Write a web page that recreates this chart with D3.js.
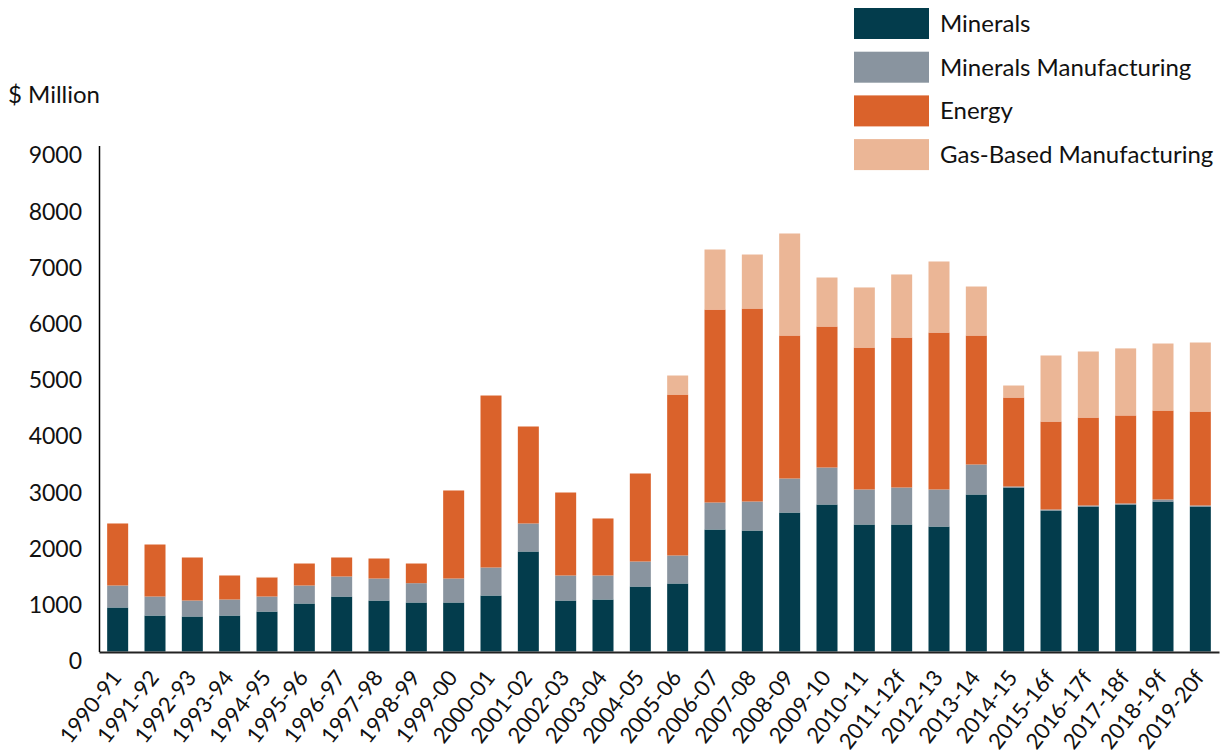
<!DOCTYPE html>
<html>
<head>
<meta charset="utf-8">
<script src="https://cdn.jsdelivr.net/npm/d3@7"></script>
<style>
  html, body { margin: 0; padding: 0; background: #fff; }
  text { font-family: Lato, "Open Sans", sans-serif; fill: #111; }
</style>
</head>
<body>
<svg id="chart" width="1225" height="755"></svg>
<script>
const categories = ["1990-91","1991-92","1992-93","1993-94","1994-95","1995-96","1996-97","1997-98","1998-99","1999-00","2000-01","2001-02","2002-03","2003-04","2004-05","2005-06","2006-07","2007-08","2008-09","2009-10","2010-11","2011-12f","2012-13","2013-14","2014-15","2015-16f","2016-17f","2017-18f","2018-19f","2019-20f"];
const minerals = [783, 640, 623, 640, 711, 854, 978, 907, 872, 872, 996, 1779, 907, 925, 1156, 1210, 2170, 2152, 2472, 2615, 2259, 2259, 2223, 2793, 2917, 2508, 2579, 2615, 2668, 2579];
const mineralsManufacturing = [391, 338, 284, 285, 267, 320, 356, 391, 343, 426, 498, 498, 445, 427, 445, 498, 480, 516, 605, 658, 623, 658, 659, 533, 18, 18, 18, 18, 36, 18];
const energy = [1103, 925, 765, 427, 338, 391, 338, 356, 350, 1566, 3059, 1725, 1476, 1014, 1565, 2863, 3433, 3433, 2544, 2508, 2525, 2668, 2792, 2295, 1583, 1565, 1565, 1566, 1583, 1672];
const gasBasedManufacturing = [0, 0, 0, 0, 10, 0, 0, 0, 0, 0, 0, 0, 0, 0, 0, 338, 1067, 960, 1814, 871, 1068, 1121, 1263, 871, 213, 1174, 1174, 1192, 1191, 1227];
const seriesNames = ["Minerals", "Minerals Manufacturing", "Energy", "Gas-Based Manufacturing"];
const seriesColors = ["#033c4c", "#89949f", "#da622b", "#ebb696"];
const yTicks = [0, 1000, 2000, 3000, 4000, 5000, 6000, 7000, 8000, 9000];

const keys = ["minerals", "mineralsManufacturing", "energy", "gas"];
const rows = categories.map((c, i) => ({
  cat: c,
  minerals: minerals[i],
  mineralsManufacturing: mineralsManufacturing[i],
  energy: energy[i],
  gas: gasBasedManufacturing[i]
}));

const svg = d3.select("#chart");
const x = d3.scaleBand().domain(categories).range([99, 1219]).paddingInner(0.4375).paddingOuter(0.21875);
const y = d3.scaleLinear().domain([0, 9000]).range([651.5, 145.5]);
const color = d3.scaleOrdinal().domain(keys).range(seriesColors);

const stacked = d3.stack().keys(keys)(rows);

svg.append("g").selectAll("g").data(stacked).join("g")
  .attr("fill", d => color(d.key))
  .selectAll("rect").data(d => d).join("rect")
  .attr("x", d => x(d.data.cat))
  .attr("width", x.bandwidth())
  .attr("y", d => y(d[1]))
  .attr("height", d => Math.max(0, y(d[0]) - y(d[1])));

// Y axis
const yAxis = svg.append("g").attr("transform", "translate(99,0)")
  .call(d3.axisLeft(y).tickValues(yTicks).tickFormat(d3.format("d")).tickSize(0).tickSizeOuter(0).tickPadding(17));
yAxis.select(".domain").attr("stroke", "#000").attr("stroke-width", 1.5);
yAxis.selectAll("text").attr("font-size", 23).attr("font-family", "Lato").attr("fill", "#111").attr("y", 10);

// X axis baseline
const xAxis = svg.append("g").attr("transform", "translate(0,652)")
  .call(d3.axisBottom(x).tickSize(0).tickSizeOuter(0));
xAxis.select(".domain").attr("stroke", "#222").attr("stroke-width", 2);
xAxis.selectAll("text")
  .attr("font-size", 22).attr("font-family", "Lato").attr("fill", "#111")
  .attr("text-anchor", "end")
  .attr("dy", null).attr("y", 0)
  .attr("transform", "translate(5,26) rotate(-52)");

// Unit label
svg.append("text").attr("x", 8).attr("y", 103).attr("font-size", 24).text("$ Million");

// Legend
const legend = svg.append("g");
seriesNames.forEach((name, i) => {
  const g = legend.append("g").attr("transform", `translate(854,${8 + i * 43.7})`);
  g.append("rect").attr("width", 75).attr("height", 31).attr("fill", seriesColors[i]);
  g.append("text").attr("x", 86).attr("y", 24).attr("font-size", 24).text(name);
});
</script>
</body>
</html>
